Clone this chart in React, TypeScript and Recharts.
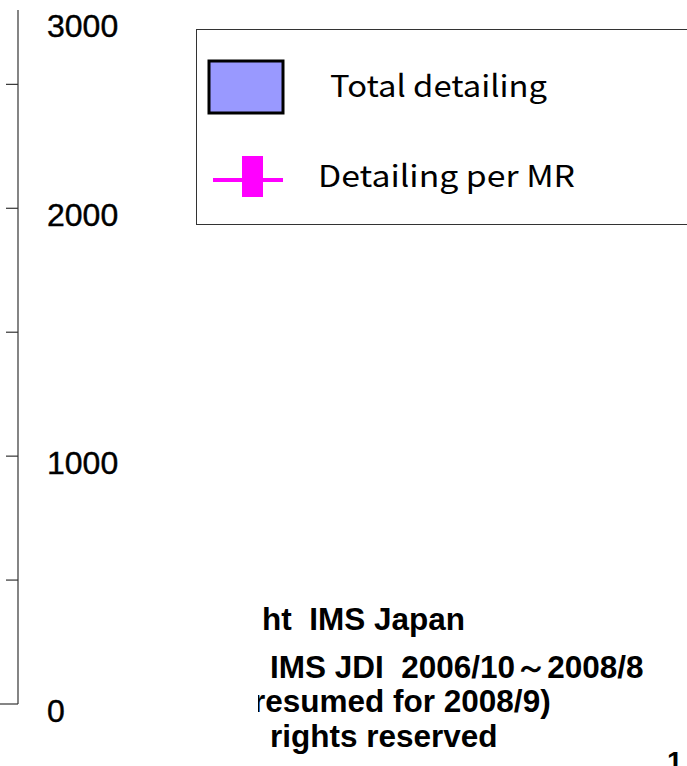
import React from "react";
import { ComposedChart, Bar, Line, XAxis, YAxis } from "recharts";

if (typeof document !== "undefined") {
  document.body.style.margin = "0";
}

// Categories and series (no marks visible in the reference crop)
const categories: string[] = [];
const totalDetailing: number[] = [];
const detailingPerMR: number[] = [];

// Axis ticks
const axisTicks = [0, 500, 1000, 1500, 2000, 2500, 3000];
const labelledTicks = [0, 1000, 2000, 3000];
const axisDomain = [0, 2800];

// Legend entries
const legendNames = ["Total detailing", "Detailing per MR"];

// Footnote lines
const footLines = ["ht  IMS Japan", "IMS JDI  2006/10～2008/8", "resumed for 2008/9)", "rights reserved"];
const pageNumber = "1";

const data = categories.map((c, i) => ({
  name: c,
  total: totalDetailing[i],
  perMR: detailingPerMR[i],
}));

const AxisTick = (props: any) => {
  const { x, y, payload } = props;
  const v = payload.value;
  const showLabel = labelledTicks.includes(v);
  const ly = Math.max(y, 19);
  return (
    <g>
      {y >= 0 && (
        <line x1={v === 0 ? 0 : x - 12} x2={x} y1={y} y2={y} stroke="#333" strokeWidth={1.2} />
      )}
      {showLabel && (
        <text
          x={x + 29}
          y={ly + 17.5}
          textAnchor="start"
          fontFamily="Liberation Sans, Arial, sans-serif"
          fontSize={32}
          fill="#000"
          stroke="#000"
          strokeWidth={0.4}
        >
          {v}
        </text>
      )}
    </g>
  );
};

const LegendBox = () => (
  <div
    style={{
      position: "absolute",
      left: 196,
      top: 29,
      width: 520,
      height: 196,
      border: "1.5px solid #333",
      boxSizing: "border-box",
      background: "#fff",
    }}
  >
    <svg width={520} height={196} style={{ position: "absolute", left: -1.5, top: -1.5 }}>
      <rect x={13} y={32} width={74} height={52} fill="#9999FF" stroke="#000" strokeWidth={3} />
      <text
        x={134}
        y={68}
        fontFamily="'Noto Sans CJK JP', 'Noto Sans', sans-serif"
        fontSize={30}
        textLength={217}
        lengthAdjust="spacingAndGlyphs"
        fill="#000"
      >
        {legendNames[0]}
      </text>
      <line x1={17} x2={87} y1={151} y2={151} stroke="#FF00FF" strokeWidth={4} />
      <rect x={46} y={127} width={21} height={41} fill="#FF00FF" />
      <text
        x={122}
        y={158}
        fontFamily="'Noto Sans CJK JP', 'Noto Sans', sans-serif"
        fontSize={30}
        textLength={257}
        lengthAdjust="spacingAndGlyphs"
        fill="#000"
      >
        {legendNames[1]}
      </text>
    </svg>
  </div>
);

export default function App() {
  return (
    <div style={{ position: "relative", width: 687, height: 766, overflow: "hidden", background: "#fff" }}>
      <ComposedChart
        width={687}
        height={766}
        data={data}
        margin={{ top: 10, right: 0, bottom: 62, left: 0 }}
      >
        <XAxis dataKey="name" hide />
        <YAxis
          yAxisId="left"
          orientation="left"
          width={18}
          domain={axisDomain}
          ticks={axisTicks}
          interval={0}
          allowDataOverflow
          tickSize={0}
          tickMargin={0}
          axisLine={{ stroke: "#333", strokeWidth: 1.2 }}
          tickLine={false}
          tick={<AxisTick />}
        />
        <Bar yAxisId="left" dataKey="total" name={legendNames[0]} fill="#9999FF" stroke="#000" isAnimationActive={false} />
        <Line
          yAxisId="left"
          dataKey="perMR"
          name={legendNames[1]}
          stroke="#FF00FF"
          strokeWidth={4}
          isAnimationActive={false}
        />
      </ComposedChart>
      <LegendBox />
      <svg
        width={687}
        height={766}
        style={{ position: "absolute", left: 0, top: 0, pointerEvents: "none" }}
      >
        <defs>
          <clipPath id="footClip">
            <rect x={258} y={0} width={429} height={766} />
          </clipPath>
        </defs>
        <g
          fontFamily="'Liberation Sans', Arial, sans-serif"
          fontWeight="bold"
          fontSize={31.5}
          fill="#000"
          clipPath="url(#footClip)"
        >
          <text x={262} y={630} xmlSpace="preserve" style={{ whiteSpace: "pre" }}>{footLines[0]}</text>
          <text x={270} y={678} xmlSpace="preserve" style={{ whiteSpace: "pre" }}>{footLines[1]}</text>
          <text x={253} y={712}>{footLines[2]}</text>
          <text x={270} y={747}>{footLines[3]}</text>
          <text x={667} y={771} fontSize={28}>{pageNumber}</text>
        </g>
      </svg>
    </div>
  );
}
